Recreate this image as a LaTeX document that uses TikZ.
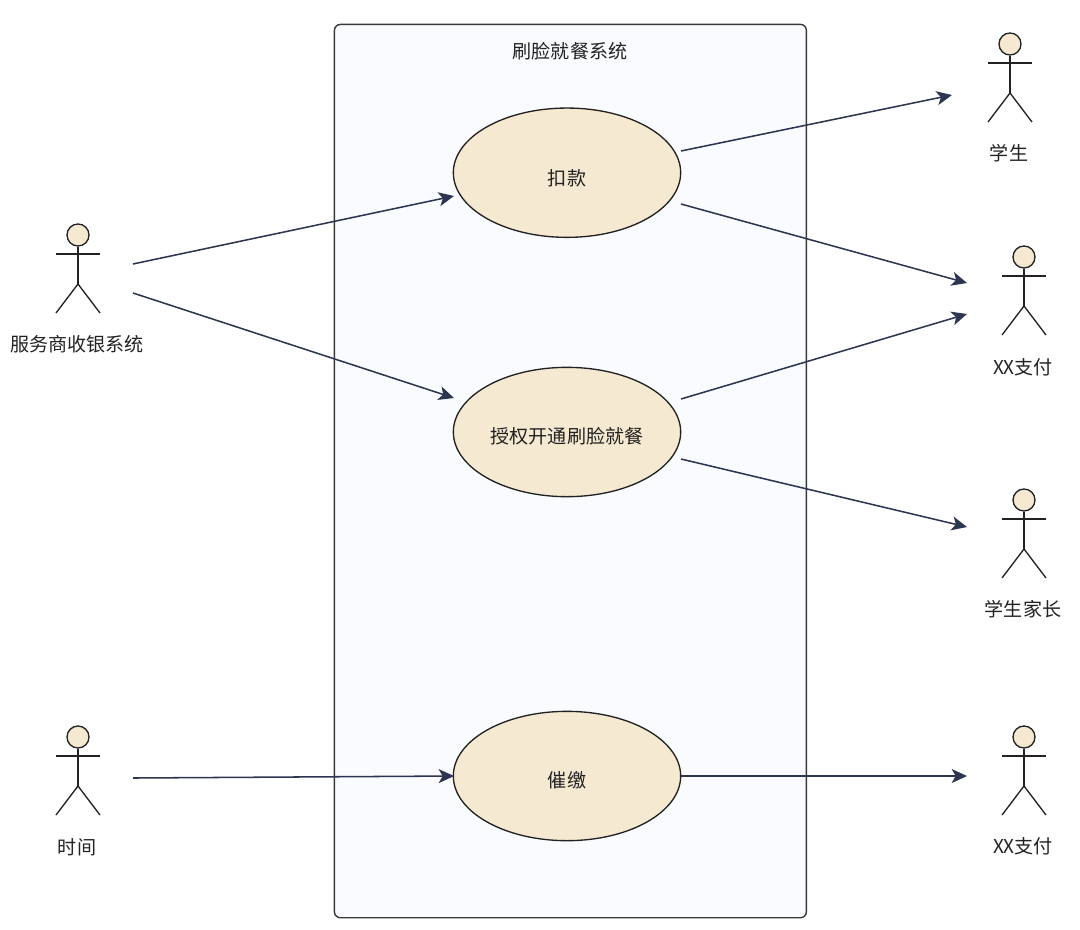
\documentclass[tikz,border=0pt]{standalone}
\usepackage{fontspec}
\setmainfont{Noto Sans CJK SC}
\usetikzlibrary{shapes.geometric,arrows.meta}
\definecolor{sysfill}{HTML}{F9FBFF}
\definecolor{cream}{HTML}{F5E9D2}
\definecolor{ink}{HTML}{222222}
\definecolor{flow}{HTML}{2D3650}
\definecolor{txt}{HTML}{222222}
\newcommand{\uctext}[2]{\raisebox{0pt}[\dimexpr\height+#1\relax]{#2}}
\tikzset{
  x=0.75pt,y=-0.75pt,
  sysbox/.style={draw=ink!90!white,fill=sysfill,line width=1.05pt,rounded corners=4.5pt},
  usecase/.style={ellipse,draw=ink,fill=cream,line width=1pt,minimum width=170.5pt,minimum height=97pt,inner sep=0pt,text=txt,font=\fontsize{14.3pt}{17pt}\selectfont},
  lbl/.style={text=txt,inner sep=0pt,font=\fontsize{14.3pt}{17pt}\selectfont},
  head/.style={circle,draw=ink,fill=cream,line width=1pt,minimum size=16.5pt,inner sep=0pt},
  limb/.style={draw=ink,line width=1pt},
  conn/.style={draw=flow,line width=1.15pt,-{Stealth[length=11.5pt,width=10.5pt,inset=3pt]}},
  pics/actor/.style={code={
    \node[head] (-h) at (0,0) {};
    \coordinate (-hip) at (0,49);
    \draw[limb] (-h.south) -- (-hip);
    \draw[limb] (-22,19) -- (22,19);
    \draw[limb] (-22,78) -- (-hip) -- (22,78);
  }}
}
\begin{document}
\begin{tikzpicture}
\useasboundingbox (0,0) rectangle (1080,929);
\node[sysbox,rectangle,minimum width=354pt,minimum height=670pt,inner sep=0pt,anchor=north west] (sys) at (333.7,23.7) {};
\node[lbl] (title) at (570,51) {刷脸就餐系统};
\node[usecase] (uc1) at (567,172.7) {\uctext{8pt}{扣款}};
\node[usecase] (uc2) at (567,432) {\uctext{6.5pt}{授权开通刷脸就餐}};
\node[usecase] (uc3) at (567,776) {\uctext{6.5pt}{催缴}};
\pic (a1) at (78,235) {actor};
\pic (a2) at (78,737) {actor};
\pic (a3) at (1010,44) {actor};
\pic (a4) at (1024,257) {actor};
\pic (a5) at (1024,500) {actor};
\pic (a6) at (1024,737) {actor};
\node[lbl] (l1) at (77,344) {服务商收银系统};
\node[lbl] (l2) at (77,847) {时间};
\node[lbl] (l3) at (1009,153) {学生};
\node[lbl] (l4) at (1023,367) {XX支付};
\node[lbl] (l5) at (1023,609) {学生家长};
\node[lbl] (l6) at (1023,846) {XX支付};
\coordinate (s1) at (133,264);
\coordinate (s2) at (133,293);
\coordinate (s3) at (133,778);
\coordinate (e1) at (454,196);
\coordinate (e2) at (454,398);
\coordinate (e3) at (454,776);
\coordinate (o1) at (681,151);
\coordinate (o2) at (681,204);
\coordinate (o3) at (681,399);
\coordinate (o4) at (681,459);
\coordinate (o5) at (681,776);
\coordinate (t1) at (952,95);
\coordinate (t2) at (967,283);
\coordinate (t3) at (967,314);
\coordinate (t4) at (967,527);
\coordinate (t5) at (967,776);
\draw[conn] (s1) -- (e1);
\draw[conn] (s2) -- (e2);
\draw[conn] (s3) -- (e3);
\draw[conn] (o1) -- (t1);
\draw[conn] (o2) -- (t2);
\draw[conn] (o3) -- (t3);
\draw[conn] (o4) -- (t4);
\draw[conn] (o5) -- (t5);
\end{tikzpicture}
\end{document}
